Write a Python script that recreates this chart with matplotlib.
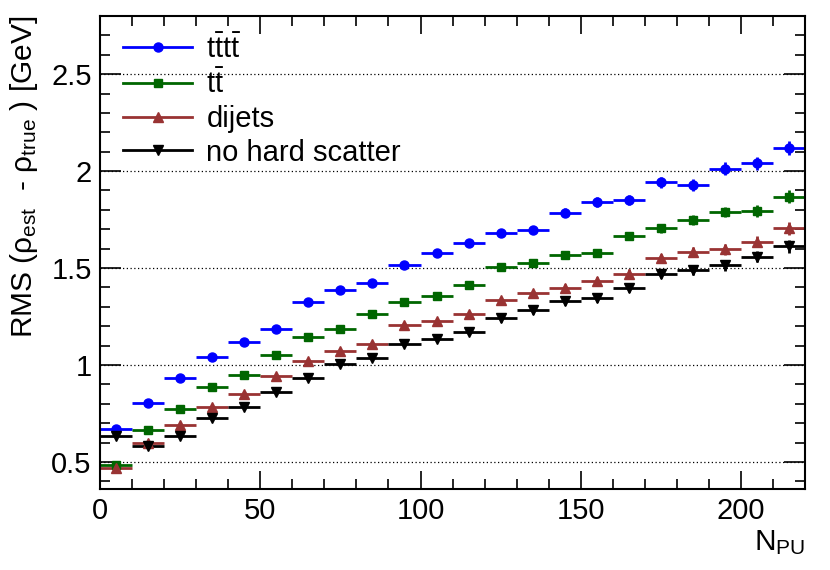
import numpy as np
import matplotlib.pyplot as plt
from matplotlib.lines import Line2D
from matplotlib.ticker import MultipleLocator

plt.rcParams['font.family'] = ['Liberation Sans', 'DejaVu Sans']
plt.rcParams['mathtext.fontset'] = 'custom'
plt.rcParams['mathtext.rm'] = 'Liberation Sans'
plt.rcParams['mathtext.it'] = 'Liberation Sans:italic'

# bin centres in N_PU (width 10)
npu = [5, 15, 25, 35, 45, 55, 65, 75, 85, 95, 105,
       115, 125, 135, 145, 155, 165, 175, 185, 195, 205, 215]

rms_tttt = [0.672, 0.802, 0.932, 1.043, 1.120, 1.188, 1.325, 1.387, 1.422, 1.514, 1.577,
            1.627, 1.679, 1.696, 1.786, 1.840, 1.850, 1.943, 1.927, 2.013, 2.040, 2.120]
err_tttt = [0.006, 0.007, 0.008, 0.009, 0.010, 0.011, 0.012, 0.013, 0.014, 0.015, 0.017,
            0.018, 0.019, 0.021, 0.022, 0.024, 0.026, 0.028, 0.030, 0.032, 0.034, 0.037]

rms_tt = [0.483, 0.663, 0.775, 0.887, 0.948, 1.050, 1.146, 1.187, 1.262, 1.327, 1.356,
          1.414, 1.505, 1.527, 1.567, 1.577, 1.665, 1.705, 1.746, 1.789, 1.794, 1.868]
err_tt = [0.005, 0.006, 0.007, 0.008, 0.009, 0.010, 0.011, 0.012, 0.013, 0.014, 0.015,
          0.016, 0.017, 0.018, 0.019, 0.020, 0.022, 0.024, 0.026, 0.028, 0.030, 0.032]

rms_dijets = [0.467, 0.600, 0.690, 0.783, 0.852, 0.943, 1.020, 1.072, 1.107, 1.205, 1.228,
              1.264, 1.335, 1.371, 1.398, 1.433, 1.471, 1.550, 1.582, 1.596, 1.636, 1.705]
err_dijets = [0.005, 0.006, 0.007, 0.008, 0.009, 0.010, 0.011, 0.012, 0.013, 0.014, 0.015,
              0.016, 0.017, 0.018, 0.019, 0.020, 0.022, 0.024, 0.026, 0.028, 0.030, 0.034]

rms_nohs = [0.634, 0.582, 0.634, 0.725, 0.783, 0.860, 0.931, 1.003, 1.038, 1.108, 1.134,
            1.170, 1.241, 1.282, 1.330, 1.347, 1.398, 1.471, 1.488, 1.515, 1.559, 1.612]
err_nohs = [0.005, 0.006, 0.007, 0.008, 0.009, 0.010, 0.011, 0.012, 0.013, 0.014, 0.015,
            0.016, 0.017, 0.018, 0.019, 0.020, 0.022, 0.024, 0.026, 0.028, 0.030, 0.032]

series = [
    (r'$\mathrm{t\bar{t}t\bar{t}}$', rms_tttt, err_tttt, '#0000ff', 'o', 6.5),
    (r'$\mathrm{t\bar{t}}$', rms_tt, err_tt, '#006600', 's', 6),
    ('dijets', rms_dijets, err_dijets, '#993333', '^', 6.5),
    ('no hard scatter', rms_nohs, err_nohs, '#000000', 'v', 6.5),
]

fig = plt.figure(figsize=(8.3, 5.7), dpi=100)
ax = fig.add_axes([0.1205, 0.142, 0.8495, 0.830])

for y in [0.5, 1.0, 1.5, 2.0, 2.5]:
    ax.axhline(y, color='k', ls=(0, (1, 2)), lw=0.9, zorder=0)

handles = []
for label, vals, errs, col, mk, ms in series:
    ax.errorbar(npu, vals, xerr=5, yerr=errs, fmt=mk, color=col, ms=ms,
                elinewidth=2, capsize=0, mec=col, mfc=col)
    handles.append(Line2D([], [], color=col, lw=2, marker=mk, ms=ms, label=label))

ax.set_xlim(0, 220)
ax.set_ylim(0.36, 2.80)

ax.xaxis.set_major_locator(MultipleLocator(50))
ax.xaxis.set_minor_locator(MultipleLocator(10))
ax.yaxis.set_major_locator(MultipleLocator(0.5))
ax.yaxis.set_minor_locator(MultipleLocator(0.1))
ax.set_yticks([0.5, 1, 1.5, 2, 2.5])
ax.set_yticklabels(['0.5', '1', '1.5', '2', '2.5'])

ax.tick_params(which='both', direction='in', top=True, right=True, labelsize=21, width=1.2)
ax.tick_params(axis='x', which='major', length=13, pad=6)
ax.tick_params(axis='x', which='minor', length=7)
ax.tick_params(axis='y', which='major', length=15, pad=6)
ax.tick_params(axis='y', which='minor', length=7)
for s in ax.spines.values():
    s.set_linewidth(1.5)

ax.set_ylabel('RMS (ρ$_{\\mathrm{est}}$  - ρ$_{\\mathrm{true}}$ ) [GeV]', fontsize=21.5,
              loc='top', labelpad=8)
ax.set_xlabel('N$_{\\mathrm{PU}}$', fontsize=21.5, loc='right', labelpad=2)

ax.legend(handles=handles, loc='upper left', frameon=False, fontsize=21,
          bbox_to_anchor=(0.033, 0.962), borderaxespad=0, borderpad=0,
          handlelength=2.35, labelspacing=0.2, handletextpad=0.5)

fig.savefig('out.png', dpi=100)
